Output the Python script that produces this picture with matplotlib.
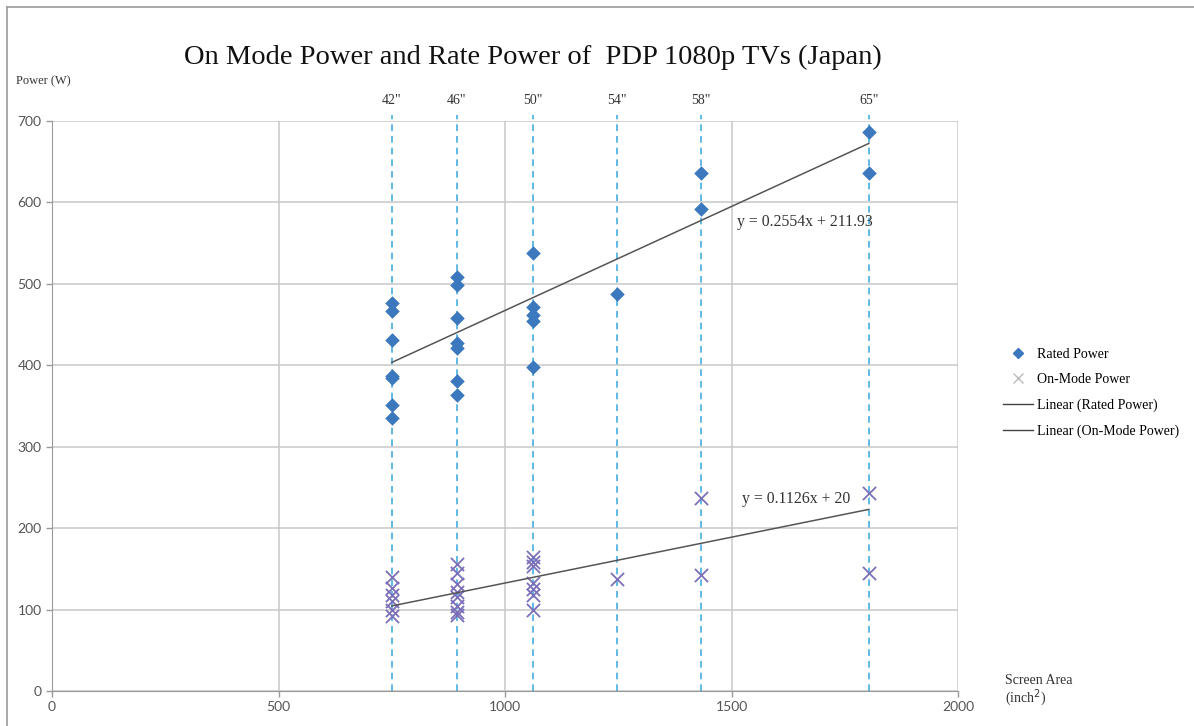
import matplotlib.pyplot as plt
from matplotlib.lines import Line2D

# screen sizes (inch) and their screen areas (inch^2)
sizes = ['42"', '46"', '50"', '54"', '58"', '65"']
areas = [750, 894, 1062, 1247, 1433, 1803]

# rated power per screen size
rated = {
    750: [476, 467, 431, 387, 384, 351, 335],
    894: [508, 498, 458, 427, 421, 381, 363],
    1062: [538, 471, 462, 454, 398],
    1247: [487],
    1433: [636, 592],
    1803: [687, 636],
}
# on-mode power per screen size
onmode = {
    750: [140, 126, 118, 111, 100, 92],
    894: [156, 145, 132, 122, 116, 104, 97, 93],
    1062: [165, 159, 154, 133, 125, 118, 100],
    1247: [138],
    1433: [237, 142],
    1803: [243, 145],
}
# trendline coefficients (slope, intercept)
rated_fit = [0.2554, 211.93]
onmode_fit = [0.1126, 20]

plt.rcParams['font.family'] = ['Liberation Serif', 'DejaVu Serif']

fig = plt.figure(figsize=(11.94, 7.26), dpi=100)
ax = fig.add_axes([52 / 1194, 35 / 726, 906 / 1194, 570 / 726])

# outer frame
fig.add_artist(Line2D([7 / 1194, 7 / 1194], [0, 1 - 7 / 726], color='#999999', lw=1.2))
fig.add_artist(Line2D([7 / 1194, 1], [1 - 7 / 726, 1 - 7 / 726], color='#999999', lw=1.2))

diamond_c = '#3b78bd'
cross_c = '#7a6fb8'

for a, lab in zip(areas, sizes):
    ax.axvline(a, ymin=0, ymax=1.01, color='#45ade0', ls=(0, (4, 3)), lw=1.2, zorder=1, clip_on=False)
    ax.text(a, 725, lab, ha='center', va='center', fontsize=10, color='#333333')

for a in areas:
    ax.scatter([a] * len(rated[a]), rated[a], marker='D', s=55, color=diamond_c, zorder=3, linewidths=0)
    ax.scatter([a] * len(onmode[a]), onmode[a], marker='x', s=90, color=cross_c, zorder=3, linewidths=1.3)

xs = [min(areas), max(areas)]
ax.plot(xs, [rated_fit[0] * x + rated_fit[1] for x in xs], color='#555555', lw=1.1, zorder=4)
ax.plot(xs, [onmode_fit[0] * x + onmode_fit[1] for x in xs], color='#555555', lw=1.1, zorder=4)

ax.text(1513, 576, 'y = 0.2554x + 211.93', fontsize=11.3, color='#333333', ha='left', va='center')
ax.text(1523, 236, 'y = 0.1126x + 20', fontsize=11.3, color='#333333', ha='left', va='center')

ax.set_xlim(0, 2000)
ax.set_ylim(0, 700)
ax.set_xticks(range(0, 2001, 500))
ax.set_yticks(range(0, 701, 100))
ax.grid(True, color='#c8c8c8', lw=1.1)
ax.set_axisbelow(True)
for s in ['top', 'right']:
    ax.spines[s].set_visible(False)
for s in ['left', 'bottom']:
    ax.spines[s].set_color('#9a9a9a')
ax.tick_params(colors='#9a9a9a', labelcolor='#555555', labelsize=10, length=4, width=1)
for lab in ax.get_xticklabels() + ax.get_yticklabels():
    lab.set_family('Lato')

fig.text(0.446, 1 - 57 / 726, 'On Mode Power and Rate Power of  PDP 1080p TVs (Japan)',
         ha='center', va='center', fontsize=20.5, color='#111111')
fig.text(16 / 1194, 1 - 81 / 726, 'Power (W)', ha='left', va='center', fontsize=9, color='#333333')
fig.text(1005 / 1194, 1 - 681 / 726, 'Screen Area', ha='left', va='center', fontsize=10, color='#333333')
fig.text(1005 / 1194, 1 - 698 / 726, '(inch$^2$)', ha='left', va='center', fontsize=10, color='#333333')

handles = [
    Line2D([], [], marker='D', ls='none', color=diamond_c, markersize=5),
    Line2D([], [], marker='x', ls='none', color='#bbbbbb', markersize=7),
    Line2D([], [], color='#444444', lw=1),
    Line2D([], [], color='#444444', lw=1),
]
labels = ['Rated Power', 'On-Mode Power', 'Linear (Rated Power)', 'Linear (On-Mode Power)']
fig.legend(handles, labels, loc='upper left', bbox_to_anchor=(990 / 1194, 1 - 335 / 726),
           frameon=False, fontsize=10, handlelength=2.2, handletextpad=0.3, labelspacing=0.9)

fig.savefig('out.png', dpi=100)
